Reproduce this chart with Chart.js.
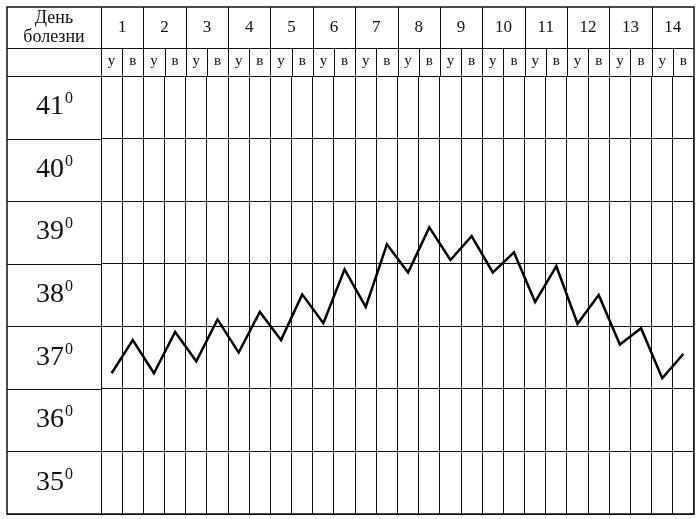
<!DOCTYPE html>
<html>
<head>
<meta charset="utf-8">
<script src="https://cdn.jsdelivr.net/npm/chart.js@4"></script>
<style>
    body { margin: 0; background: #fff; }
    canvas { display: block; }
</style>
</head>
<body>
<canvas id="tempChart" width="700" height="519"></canvas>
<script>
// Temperature sheet: day of illness, morning (у) / evening (в)

const days = ['1', '2', '3', '4', '5', '6', '7', '8', '9', '10', '11', '12', '13', '14'];
const shifts = ['у', 'в'];
const tempTicks = [41, 40, 39, 38, 37, 36, 35];
const tempLabels = ['41', '40', '39', '38', '37', '36', '35'];
const degreeMark = '0';
const headerTitle = ['День', 'болезни'];

// morning / evening readings
const temperature = [
    36.75, 37.28,
    36.75, 37.41,
    36.94, 37.61,
    37.08, 37.73,
    37.28, 38.01,
    37.55, 38.41,
    37.81, 38.81,
    38.36, 39.08,
    38.56, 38.94,
    38.36, 38.68,
    37.89, 38.46,
    37.54, 38.00,
    37.21, 37.47,
    36.67, 37.06
];

const slots = days.flatMap(d => shifts.map(s => d + s));
const FONT = "'Liberation Serif', 'Times New Roman', serif";
const INK = '#111';

const tableHeader = {
    id: 'tableHeader',
    afterDraw(chart) {
        const { ctx, chartArea: area, scales: { x, y } } = chart;
        const step = x.getPixelForValue(1) - x.getPixelForValue(0);
        const outerLeft = 7, outerTop = 7, dayRowBottom = 48;
        const crisp = v => Math.round(v) + 0.5;

        ctx.save();
        ctx.strokeStyle = INK;
        ctx.lineWidth = 1;
        ctx.beginPath();

        // header horizontals
        [dayRowBottom, area.top].forEach(yy => {
            ctx.moveTo(outerLeft, crisp(yy));
            ctx.lineTo(area.right, crisp(yy));
        });

        // row lines through the label column
        y.ticks.forEach(t => {
            const yy = crisp(y.getPixelForValue(t.value));
            ctx.moveTo(outerLeft, yy);
            ctx.lineTo(area.left, yy);
        });

        // day boundaries and у/в boundaries in the header
        slots.forEach((s, i) => {
            const xx = crisp(x.getPixelForValue(i) - step / 2);
            ctx.moveTo(xx, i % 2 === 0 ? outerTop : dayRowBottom);
            ctx.lineTo(xx, area.top);
        });
        ctx.stroke();

        // outer frame
        ctx.lineWidth = 1.5;
        ctx.strokeRect(outerLeft, outerTop, area.right - outerLeft, area.bottom - outerTop);

        ctx.fillStyle = INK;
        ctx.textAlign = 'center';
        ctx.textBaseline = 'alphabetic';

        // title cell
        const labelCenter = (outerLeft + area.left) / 2;
        ctx.font = '18px ' + FONT;
        ctx.fillText(headerTitle[0], labelCenter, 23);
        ctx.fillText(headerTitle[1], labelCenter, 42);

        // day numbers
        ctx.font = '17px ' + FONT;
        days.forEach((d, i) => {
            const cx = (x.getPixelForValue(i * 2) + x.getPixelForValue(i * 2 + 1)) / 2;
            ctx.fillText(d, cx, 32);
        });

        // у / в
        ctx.font = '15px ' + FONT;
        slots.forEach((s, i) => {
            ctx.fillText(shifts[i % 2], x.getPixelForValue(i), 65);
        });

        // temperature labels with superscript degree
        tempTicks.forEach((v, i) => {
            const cy = y.getPixelForValue(v);
            ctx.font = '28px ' + FONT;
            const w = ctx.measureText(tempLabels[i]).width;
            ctx.font = '16px ' + FONT;
            const ws = ctx.measureText(degreeMark).width;
            const startX = labelCenter - (w + ws) / 2;
            ctx.textAlign = 'left';
            ctx.font = '28px ' + FONT;
            ctx.fillText(tempLabels[i], startX, cy + 7);
            ctx.font = '16px ' + FONT;
            ctx.fillText(degreeMark, startX + w + 1, cy - 4);
        });

        ctx.restore();
    }
};

new Chart(document.getElementById('tempChart'), {
    type: 'line',
    data: {
        labels: slots,
        datasets: [{
            label: 'Температура',
            data: temperature,
            borderColor: '#000',
            borderWidth: 2.5,
            pointRadius: 0,
            tension: 0,
            fill: false
        }]
    },
    options: {
        responsive: false,
        animation: false,
        layout: {
            padding: { left: 101, right: 6, top: 76, bottom: 5 }
        },
        plugins: {
            legend: { display: false },
            tooltip: { enabled: false }
        },
        scales: {
            x: {
                type: 'category',
                offset: true,
                ticks: { display: false },
                border: { display: false },
                grid: { offset: true, color: INK, lineWidth: 1, drawTicks: false }
            },
            y: {
                min: 34.5,
                max: 41.5,
                afterBuildTicks(scale) {
                    scale.ticks = [34.5, 35.5, 36.5, 37.5, 38.5, 39.5, 40.5, 41.5].map(v => ({ value: v }));
                },
                ticks: { display: false },
                border: { display: false },
                grid: { color: INK, lineWidth: 1, drawTicks: false }
            }
        }
    },
    plugins: [tableHeader]
});
</script>
</body>
</html>
